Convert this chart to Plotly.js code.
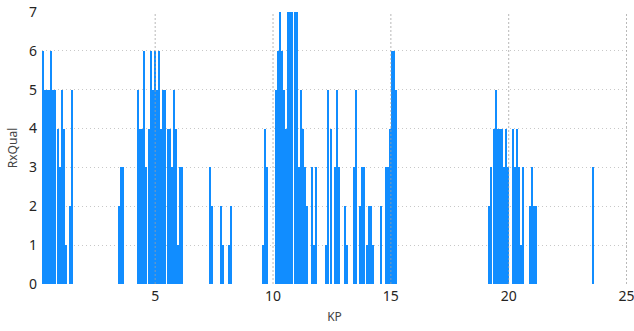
<!DOCTYPE html>
<html>
<head>
<meta charset="utf-8">
<script src="https://cdn.plot.ly/plotly-3.0.1.min.js"></script>
<style>
  html, body { margin: 0; padding: 0; background: #ffffff; }
  #chart { width: 634px; height: 331px; }
</style>
</head>
<body>
<div id="chart"></div>
<script>
// KP (kilometre point) of each measurement
const kp = [
  0.24, 0.32, 0.41, 0.49, 0.58, 0.66, 0.75, 0.87, 0.96, 1.04, 1.13, 1.21, 1.38, 1.47,
  3.46, 3.55, 3.63,
  4.27, 4.35, 4.44, 4.52, 4.61, 4.73, 4.82, 4.90, 4.99, 5.07, 5.16, 5.24, 5.33, 5.41,
  5.54, 5.62, 5.71, 5.79, 5.88, 5.96, 6.05, 6.13,
  7.32, 7.40, 7.79, 7.87, 8.13, 8.21,
  9.57, 9.65, 9.74,
  10.12, 10.20, 10.29, 10.37, 10.46, 10.54, 10.63, 10.71, 10.80, 10.92, 11.01, 11.09,
  11.18, 11.26, 11.35, 11.43, 11.65, 11.73, 11.82,
  12.24, 12.32, 12.45, 12.62, 12.71, 12.79, 13.05, 13.13, 13.43, 13.51, 13.68, 13.77,
  13.85, 13.98, 14.06, 14.15, 14.23, 14.57, 14.78, 14.87, 14.95, 15.04, 15.12, 15.21,
  19.15, 19.24, 19.36, 19.45, 19.53, 19.62, 19.70, 19.79, 19.87, 19.96,
  20.17, 20.25, 20.34, 20.42, 20.51, 20.59, 20.89, 20.98, 21.06, 21.15,
  23.56
];
// RxQual value at each KP
const rxqual = [
  6, 5, 5, 5, 6, 5, 5, 4, 3, 5, 4, 1, 2, 5,
  2, 3, 3,
  5, 4, 4, 6, 3, 4, 6, 5, 6, 5, 6, 4, 5, 5,
  4, 4, 3, 5, 4, 1, 3, 3,
  3, 2, 2, 1, 1, 2,
  1, 4, 3,
  5, 6, 7, 6, 5, 4, 7, 7, 7, 7, 7, 3,
  5, 4, 3, 2, 3, 1, 3,
  1, 5, 4, 3, 5, 3, 2, 1, 3, 5, 2, 3,
  3, 1, 2, 2, 1, 2, 3, 3, 4, 6, 6, 5,
  2, 3, 4, 5, 4, 4, 4, 3, 4, 3,
  4, 3, 4, 3, 1, 3, 2, 3, 2, 2,
  3
];
const xTicks = [5, 10, 15, 20, 25];
const yTicks = [0, 1, 2, 3, 4, 5, 6, 7];

const barWidth = 0.085;
const fontFam = '"Segoe UI", "Noto Sans", "Open Sans", sans-serif';

const trace = {
  type: 'bar',
  x: kp,
  y: rxqual,
  width: barWidth,
  marker: { color: '#118DFF', line: { width: 0 } },
  hoverinfo: 'none'
};

const vLines = xTicks.map(v => ({
  type: 'line', xref: 'x', yref: 'paper', x0: v, x1: v, y0: 0, y1: 1,
  layer: 'above',
  line: { color: 'rgba(160,160,160,0.75)', width: 1, dash: '2px,2px' }
}));

const layout = {
  width: 634,
  height: 331,
  margin: { l: 42, r: 7, t: 12, b: 47 },
  paper_bgcolor: '#ffffff',
  plot_bgcolor: '#ffffff',
  bargap: 0,
  showlegend: false,
  font: { family: fontFam, size: 13, color: '#252423' },
  xaxis: {
    range: [Math.min(...kp) - barWidth / 2, xTicks[xTicks.length - 1] + 0.02],
    tickmode: 'array',
    tickvals: xTicks,
    ticktext: xTicks.map(String),
    showgrid: false,
    zeroline: false,
    showline: false,
    ticks: '',
    ticklabelstandoff: 2,
    ticklabeloverflow: 'allow',
    tickfont: { family: fontFam, size: 14, color: '#252423' },
    title: { text: 'KP', font: { family: fontFam, size: 12, color: '#444444' }, standoff: 8 }
  },
  yaxis: {
    range: [0, 7],
    tickmode: 'array',
    tickvals: yTicks,
    ticktext: yTicks.map(String),
    showgrid: true,
    gridcolor: '#c8c8c8',
    gridwidth: 1,
    griddash: '1px,3px',
    zeroline: false,
    showline: false,
    ticks: '',
    ticklabelstandoff: 4,
    tickfont: { family: fontFam, size: 14, color: '#252423' },
    title: { text: 'RxQual', font: { family: fontFam, size: 12, color: '#444444' }, standoff: 8 }
  },
  shapes: vLines
};

Plotly.newPlot('chart', [trace], layout, { staticPlot: true, displayModeBar: false });
</script>
</body>
</html>
